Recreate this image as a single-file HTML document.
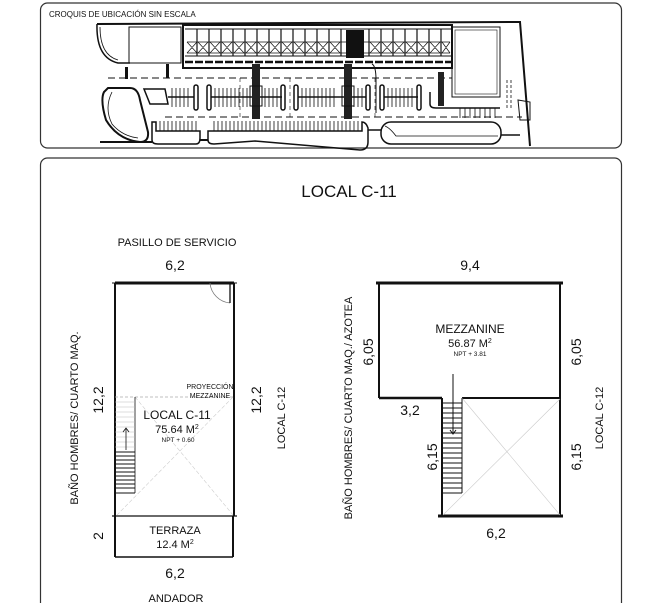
<!DOCTYPE html>
<html><head><meta charset="utf-8"><style>
html,body{margin:0;padding:0;background:#fff;}
svg{display:block;}
text{font-family:"Liberation Sans",Arial,sans-serif;fill:#111;}
</style></head><body>
<svg width="661" height="603" viewBox="0 0 661 603" xmlns="http://www.w3.org/2000/svg">
<!-- frames -->
<rect x="40.5" y="3" width="581" height="145" rx="7" fill="none" stroke="#333" stroke-width="1.2"/>
<rect x="40.5" y="158" width="581" height="460" rx="7" fill="none" stroke="#333" stroke-width="1.2"/>
<text x="49" y="17" font-size="8">CROQUIS  DE UBICACIÓN SIN ESCALA</text>

<!-- site plan -->
<g fill="none" stroke="#111">
<path d="M97 24 L520 22 L530 146" stroke-width="2"/>
<path d="M97 24 Q96 58 118 63 L130 63" stroke-width="1.5"/>
<path d="M100 27 Q100 55 118 60" stroke-width="0.8"/>
<rect x="129" y="27" width="52" height="36" stroke-width="1"/>
<rect x="183" y="25" width="269" height="43" stroke-width="2"/>
<line x1="185" y1="29" x2="452" y2="29" stroke-width="1"/>
<line x1="185" y1="56" x2="452" y2="56" stroke-width="1"/>
<line x1="185" y1="62" x2="452" y2="62" stroke-width="2.5" stroke-dasharray="8 2"/>
<rect x="452" y="27" width="48" height="70" stroke-width="1"/>
<rect x="455" y="30" width="42" height="64" stroke-width="0.6"/>
<line x1="108" y1="78" x2="452" y2="78" stroke-width="0.9" stroke-dasharray="7 4"/>
<line x1="165" y1="117" x2="522" y2="117" stroke-width="0.9" stroke-dasharray="7 4"/>
<line x1="240" y1="78" x2="240" y2="117" stroke-width="0.6" stroke-dasharray="4 3"/>
<line x1="290" y1="78" x2="290" y2="117" stroke-width="0.6" stroke-dasharray="4 3"/>
<line x1="375" y1="78" x2="375" y2="117" stroke-width="0.6" stroke-dasharray="4 3"/>
<path d="M372 64 Q376 66 376 80 L376 113" stroke-width="1"/>
<!-- left round shape -->
<path d="M108 88 L130 88 Q138 88 140 100 L148 132 Q149 142 140 142 Q118 140 106 120 Q100 100 104 92 Z" stroke-width="2"/>
<path d="M112 92 Q104 108 112 124 Q122 136 138 138" stroke-width="0.8"/>
<path d="M144 89 L165 89 L168 104 L150 104 Z" stroke-width="1.5"/>
<!-- parking rows -->
<g stroke-width="1.5">
<line x1="168" y1="97" x2="194" y2="97"/>
<rect x="194" y="85" width="4" height="25" rx="2"/>
<rect x="207" y="85" width="4" height="25" rx="2"/>
<line x1="211" y1="97" x2="282" y2="97"/>
<rect x="281" y="85" width="4" height="25" rx="2"/>
<rect x="294" y="85" width="4" height="25" rx="2"/>
<line x1="298" y1="97" x2="366" y2="97"/>
<rect x="366" y="85" width="4" height="25" rx="2"/>
<rect x="380" y="85" width="4" height="25" rx="2"/>
<line x1="384" y1="97" x2="418" y2="97"/>
<rect x="417" y="85" width="4" height="25" rx="2"/>
</g>
<g stroke-width="0.8">
<path d="M172 88V107M176 88V107M180 88V107M184 88V107M188 88V107
M215 88V107M219 88V107M223 88V107M227 88V107M231 88V107M235 88V107M239 88V107M243 88V107M247 88V107M265 88V107M269 88V107M273 88V107M277 88V107
M302 88V107M306 88V107M310 88V107M314 88V107M318 88V107M322 88V107M326 88V107M330 88V107M334 88V107M354 88V107M358 88V107M362 88V107
M388 88V107M392 88V107M396 88V107M400 88V107M404 88V107M408 88V107M412 88V107"/>
</g>
<!-- bottom teeth -->
<path d="M160 121V131M164 121V131M168 121V131M172 121V131M176 121V131M180 121V131M184 121V131M188 121V131M192 121V131M196 121V131M214 121V131M218 121V131M222 121V131M226 121V131M230 121V131M234 121V131M238 121V131M242 121V131M246 121V131M250 121V131M254 121V131M258 121V131M262 121V131M266 121V131M270 121V131M274 121V131M278 121V131M282 121V131M286 121V131M290 121V131M294 121V131M298 121V131M302 121V131M306 121V131M310 121V131M314 121V131M318 121V131M322 121V131M326 121V131M330 121V131M334 121V131M338 121V131M342 121V131M346 121V131M350 121V131M354 121V131M358 121V131" stroke-width="0.8"/>
<path d="M460 108V118M465 108V118M470 108V118M475 108V118M480 108V118M485 108V118M490 108V118M495 108V118" stroke-width="0.8"/>
<path d="M430 92 L430 104 Q430 108 436 108 L500 108" stroke-width="1.5"/>
<!-- bays -->
<path d="M152 122 L152 140 Q152 144 158 144 L196 144 Q200 144 200 138 L200 131 L156 131 L156 122 Z" stroke-width="1.5"/>
<path d="M208 131 L208 140 Q208 144 214 144 L255 141 L360 150 Q368 150 368 142 L368 128 Q366 122 362 122 L362 131 Z" stroke-width="1.5"/>
<line x1="100" y1="142" x2="152" y2="142" stroke-width="2"/>
<line x1="200" y1="140" x2="208" y2="140" stroke-width="2"/>
<rect x="381" y="122" width="120" height="22" rx="10" stroke-width="1.5"/>
<path d="M385 126 Q390 128 396 136 L498 136" stroke-width="0.8"/>
<line x1="368" y1="130" x2="381" y2="130" stroke-width="1.5"/>
<line x1="501" y1="135" x2="520" y2="135" stroke-width="1.5"/>
<path d="M518 100 L530 102 L530 120 L520 120 Z" stroke-width="1"/>
<path d="M507 80V110M511 80V110" stroke-width="0.8" stroke-dasharray="3 2"/>
</g>
<!-- building cells -->
<g stroke="#111" stroke-width="1.2" fill="none">
<path d="M197 29V56M209 29V56M221 29V56M233 29V56M245 29V56M257 29V56M269 29V56M281 29V56M293 29V56M305 29V56M317 29V56M329 29V56M341 29V56M369 29V56M381 29V56M393 29V56M405 29V56M417 29V56M429 29V56M441 29V56"/>
</g>
<g stroke="#111" stroke-width="0.7" fill="none">
<path d="M187 42H450M187 53H450"/>
<path d="M187 42L197 53M197 42L187 53M198 42L208 53M208 42L198 53M210 42L220 53M220 42L210 53M222 42L232 53M232 42L222 53M234 42L244 53M244 42L234 53M246 42L256 53M256 42L246 53M258 42L268 53M268 42L258 53M270 42L280 53M280 42L270 53M282 42L292 53M292 42L282 53M294 42L304 53M304 42L294 53M306 42L316 53M316 42L306 53M318 42L328 53M328 42L318 53M330 42L340 53M340 42L330 53M370 42L380 53M380 42L370 53M382 42L392 53M392 42L382 53M394 42L404 53M404 42L394 53M406 42L416 53M416 42L406 53M418 42L428 53M428 42L418 53M430 42L440 53M440 42L430 53M442 42L450 53M450 42L442 53"/>
</g>
<rect x="346" y="30" width="18" height="28" fill="#111"/>
<rect x="252" y="64" width="8" height="55" fill="#222"/>
<rect x="344" y="64" width="8" height="55" fill="#222"/>
<rect x="250" y="86" width="12" height="20" fill="none" stroke="#111"/>
<rect x="342" y="86" width="12" height="20" fill="none" stroke="#111"/>
<rect x="125" y="67" width="3" height="12" fill="#111"/>
<rect x="166" y="64" width="3" height="14" fill="#111"/>
<rect x="438" y="72" width="6" height="34" fill="#222"/>

<!-- titles -->
<text x="349" y="197" font-size="17" text-anchor="middle">LOCAL C-11</text>
<text x="177" y="246" font-size="11" text-anchor="middle">PASILLO DE SERVICIO</text>
<text x="175" y="270" font-size="14" text-anchor="middle">6,2</text>
<text x="470" y="270" font-size="14" text-anchor="middle">9,4</text>

<!-- LEFT PLAN -->
<g fill="none" stroke="#111">
<line x1="115" y1="283" x2="234" y2="283" stroke-width="3"/>
<line x1="112" y1="283" x2="237" y2="283" stroke-width="1"/>
<line x1="115" y1="283" x2="115" y2="557" stroke-width="2"/>
<line x1="234" y1="283" x2="234" y2="516" stroke-width="2"/>
<line x1="233" y1="516" x2="233" y2="557" stroke-width="2"/>
<line x1="112" y1="516" x2="237" y2="516" stroke-width="1.3"/>
<line x1="115" y1="557" x2="233" y2="557" stroke-width="1.5"/>
<path d="M210 283 A22 22 0 0 0 230 303" stroke="#777" stroke-width="0.8"/>
<line x1="230" y1="283" x2="230" y2="303" stroke-width="1.3"/>
<line x1="115" y1="397" x2="233" y2="397" stroke="#aaa" stroke-width="0.7" stroke-dasharray="3 2"/>
<path d="M135 397 L233 515 M233 397 L117 515" stroke="#ccc" stroke-width="0.6" stroke-dasharray="4 2"/>
<line x1="135" y1="397" x2="135" y2="493" stroke-width="0.8"/>
<path d="M115 402H135M115 407H135M115 412H135M115 417H135M115 422H135M115 427H135M115 432H135M115 437H135M115 442H135M115 447H135" stroke="#bbb" stroke-width="0.6"/>
<path d="M115 452H135M115 456H135M115 460H135M115 464H135M115 468H135M115 472H135M115 476H135M115 480H135M115 484H135M115 488H135M115 493H135" stroke-width="1"/>
<line x1="126" y1="450" x2="126" y2="428" stroke-width="0.8"/>
<path d="M123 432 L126 428 L129 432" stroke-width="0.8"/>
</g>
<text x="210" y="389" font-size="7" text-anchor="middle">PROYECCIÓN</text>
<text x="210" y="398" font-size="7" text-anchor="middle">MEZZANINE</text>
<text x="177" y="419" font-size="12" text-anchor="middle">LOCAL C-11</text>
<text x="177" y="433" font-size="11" text-anchor="middle">75.64 M<tspan font-size="7" dy="-4">2</tspan></text>
<text x="178" y="442" font-size="6.5" text-anchor="middle">NPT + 0.60</text>
<text x="175" y="534" font-size="11" text-anchor="middle">TERRAZA</text>
<text x="175" y="548" font-size="11" text-anchor="middle">12.4 M<tspan font-size="7" dy="-4">2</tspan></text>
<text x="175" y="578" font-size="14" text-anchor="middle">6,2</text>
<text x="176" y="602" font-size="11" text-anchor="middle">ANDADOR</text>
<text transform="translate(103,536) rotate(-90)" font-size="14" text-anchor="middle">2</text>
<text transform="translate(103,400) rotate(-90)" font-size="14" text-anchor="middle">12,2</text>
<text transform="translate(261,400) rotate(-90)" font-size="14" text-anchor="middle">12,2</text>
<text transform="translate(78,418) rotate(-90)" font-size="11" text-anchor="middle">BAÑO HOMBRES/ CUARTO MAQ.</text>
<text transform="translate(285,418) rotate(-90)" font-size="11" text-anchor="middle">LOCAL C-12</text>

<!-- RIGHT PLAN -->
<g fill="none" stroke="#111">
<line x1="376" y1="283" x2="563" y2="283" stroke-width="3"/>
<line x1="379" y1="283" x2="379" y2="398" stroke-width="2"/>
<line x1="379" y1="398" x2="442" y2="398" stroke-width="2.5"/>
<line x1="442" y1="398" x2="442" y2="516" stroke-width="2"/>
<line x1="462" y1="398" x2="560" y2="398" stroke-width="2"/>
<line x1="560" y1="283" x2="560" y2="516" stroke-width="2"/>
<line x1="438" y1="516" x2="563" y2="516" stroke-width="3"/>
<path d="M462 398 L560 515 M560 399 L443 515" stroke="#ccc" stroke-width="0.6"/>
<line x1="462" y1="398" x2="462" y2="493" stroke-width="1"/>
<line x1="442" y1="493" x2="462" y2="493" stroke-width="1"/>
<path d="M442 403H462M442 408H462M442 413H462M442 418H462M442 423H462M442 428H462M442 433H462M442 438H462M442 443H462M442 448H462M442 453H462M442 458H462M442 463H462M442 468H462M442 473H462M442 478H462M442 483H462M442 488H462" stroke-width="0.9"/>
<line x1="453" y1="374" x2="453" y2="434" stroke-width="1"/>
<path d="M450 430 L453 434 L456 430" stroke-width="1"/>
</g>
<text x="470" y="333" font-size="12" text-anchor="middle">MEZZANINE</text>
<text x="470" y="347" font-size="11" text-anchor="middle">56.87 M<tspan font-size="7" dy="-4">2</tspan></text>
<text x="470" y="356" font-size="6.5" text-anchor="middle">NPT + 3.81</text>
<text x="410" y="415" font-size="14" text-anchor="middle">3,2</text>
<text x="496" y="538" font-size="14" text-anchor="middle">6,2</text>
<text transform="translate(373,352) rotate(-90)" font-size="14" text-anchor="middle">6,05</text>
<text transform="translate(581,352) rotate(-90)" font-size="14" text-anchor="middle">6,05</text>
<text transform="translate(437,457) rotate(-90)" font-size="14" text-anchor="middle">6,15</text>
<text transform="translate(581,457) rotate(-90)" font-size="14" text-anchor="middle">6,15</text>
<text transform="translate(352,408) rotate(-90)" font-size="11" text-anchor="middle">BAÑO HOMBRES/ CUARTO MAQ./ AZOTEA</text>
<text transform="translate(603,418) rotate(-90)" font-size="11" text-anchor="middle">LOCAL C-12</text>
</svg>
</body></html>
